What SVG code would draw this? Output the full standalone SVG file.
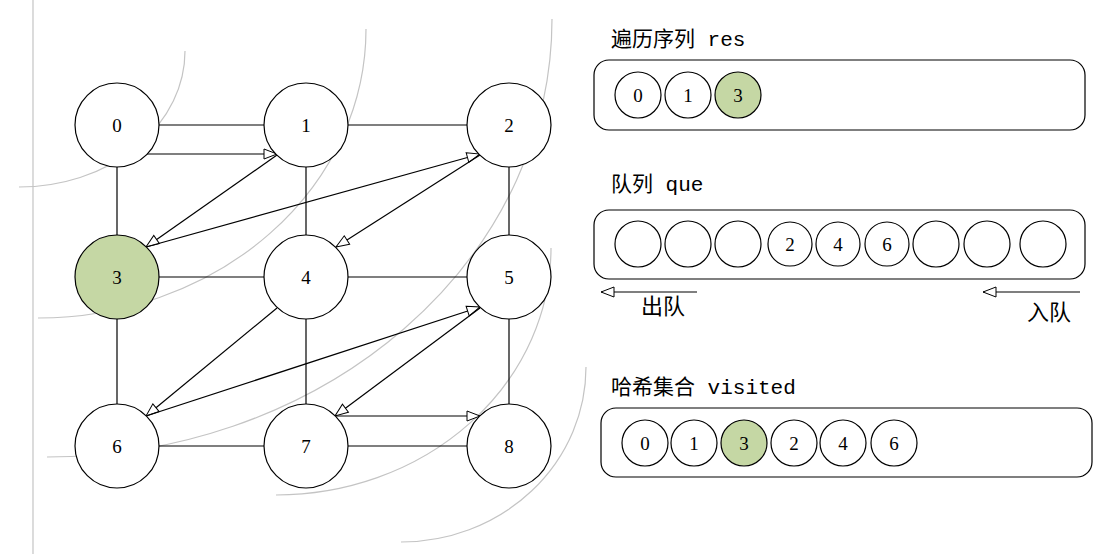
<svg xmlns="http://www.w3.org/2000/svg" width="1114" height="554" viewBox="0 0 1114 554">
<defs>
<marker id="ah" markerUnits="userSpaceOnUse" viewBox="0 0 15 12" refX="14" refY="6" markerWidth="15" markerHeight="12" orient="auto">
<path d="M1,1 L14,6 L1,11 Z" fill="#fff" stroke="#000" stroke-width="1"/>
</marker>
</defs>
<style>
.bg{fill:#fff}
.arc{fill:none;stroke:#c4c4c4;stroke-width:1.2}
.n{fill:#fff;stroke:#000;stroke-width:1.2}
.g{fill:#c5d7a4}
.e{stroke:#000;stroke-width:1.2;fill:none}
.a{stroke:#000;stroke-width:1.2;fill:none;marker-end:url(#ah)}
.lb{font-family:"Liberation Serif","Noto Sans CJK SC",serif;font-size:19px;text-anchor:middle;fill:#000}
.t{font-family:"Liberation Mono","Noto Sans CJK SC",monospace;font-size:21px;fill:#000}
.q{font-family:"Noto Sans CJK SC",sans-serif;font-size:22px;fill:#000}
.p{fill:#fff;stroke:#000;stroke-width:1.2}
</style>
<rect class="bg" width="1114" height="554"/>
<g id="guides">
<line class="arc" x1="33" y1="0" x2="33" y2="554"/>
<path class="arc" d="M185,51 A166,136 0 0 1 19,187"/>
<path class="arc" d="M366,29 A328,289 0 0 1 38,318"/>
<path class="arc" d="M552,19 A505,438 0 0 1 47,457"/>
<path class="arc" d="M551,248 A275,247 0 0 1 276,495"/>
<path class="arc" d="M586,367 A185,175 0 0 1 401,542"/>
</g>
<g id="connectors">
<line class="e" x1="159" y1="125" x2="264" y2="125"/>
<line class="e" x1="348" y1="125" x2="467" y2="125"/>
<line class="e" x1="159" y1="277" x2="264" y2="277"/>
<line class="e" x1="348" y1="277" x2="467" y2="277"/>
<line class="e" x1="159" y1="446" x2="264" y2="446"/>
<line class="e" x1="348" y1="446" x2="467" y2="446"/>
<line class="e" x1="117" y1="167" x2="117" y2="235"/>
<line class="e" x1="306" y1="167" x2="306" y2="235"/>
<line class="e" x1="509" y1="167" x2="509" y2="235"/>
<line class="e" x1="117" y1="319" x2="117" y2="404"/>
<line class="e" x1="306" y1="319" x2="306" y2="404"/>
<line class="e" x1="509" y1="319" x2="509" y2="404"/>
<line class="a" x1="147" y1="154" x2="277" y2="154"/>
<line class="a" x1="277" y1="155" x2="146" y2="247"/>
<line class="a" x1="146" y1="247" x2="480" y2="154"/>
<line class="a" x1="480" y1="155" x2="336" y2="247"/>
<line class="a" x1="277" y1="308" x2="146" y2="416"/>
<line class="a" x1="146" y1="416" x2="480" y2="307"/>
<line class="a" x1="480" y1="308" x2="335" y2="416"/>
<line class="a" x1="336" y1="416" x2="480" y2="416"/>
</g>
<g id="node0"><circle class="n" cx="117" cy="125" r="42"/><text class="lb" x="117" y="132">0</text></g>
<g id="node1"><circle class="n" cx="306" cy="125" r="42"/><text class="lb" x="306" y="132">1</text></g>
<g id="node2"><circle class="n" cx="509" cy="125" r="42"/><text class="lb" x="509" y="132">2</text></g>
<g id="node3"><circle class="n g" cx="117" cy="277" r="42"/><text class="lb" x="117" y="284">3</text></g>
<g id="node4"><circle class="n" cx="306" cy="277" r="42"/><text class="lb" x="306" y="284">4</text></g>
<g id="node5"><circle class="n" cx="509" cy="277" r="42"/><text class="lb" x="509" y="284">5</text></g>
<g id="node6"><circle class="n" cx="117" cy="446" r="42"/><text class="lb" x="117" y="453">6</text></g>
<g id="node7"><circle class="n" cx="306" cy="446" r="42"/><text class="lb" x="306" y="453">7</text></g>
<g id="node8"><circle class="n" cx="509" cy="446" r="42"/><text class="lb" x="509" y="453">8</text></g>
<g id="res">
<text class="t" x="611" y="46">遍历序列 res</text>
<rect class="p" x="594" y="60" width="491" height="70" rx="15"/>
<circle class="n" cx="638" cy="95" r="23"/><text class="lb" x="638" y="102">0</text>
<circle class="n" cx="688" cy="95" r="23"/><text class="lb" x="688" y="102">1</text>
<circle class="n g" cx="738" cy="95" r="23"/><text class="lb" x="738" y="102">3</text>
</g>
<g id="que">
<text class="t" x="611" y="191">队列 que</text>
<rect class="p" x="594" y="210" width="491" height="69" rx="15"/>
<circle class="n" cx="638" cy="244" r="23"/>
<circle class="n" cx="688" cy="244" r="23"/>
<circle class="n" cx="738" cy="244" r="23"/>
<circle class="n" cx="790" cy="244" r="22"/><text class="lb" x="790" y="251">2</text>
<circle class="n" cx="838" cy="244" r="22"/><text class="lb" x="838" y="251">4</text>
<circle class="n" cx="887" cy="244" r="22"/><text class="lb" x="887" y="251">6</text>
<circle class="n" cx="936" cy="244" r="23"/>
<circle class="n" cx="987" cy="244" r="23"/>
<circle class="n" cx="1043" cy="244" r="23"/>
<line class="a" x1="697" y1="292" x2="601" y2="292"/>
<text class="q" x="641" y="314">出队</text>
<line class="a" x1="1080" y1="292" x2="983" y2="292"/>
<text class="q" x="1027" y="320">入队</text>
</g>
<g id="visited">
<text class="t" x="611" y="394">哈希集合 visited</text>
<rect class="p" x="601" y="408" width="491" height="69" rx="15"/>
<circle class="n" cx="645" cy="443" r="23"/><text class="lb" x="645" y="450">0</text>
<circle class="n" cx="694" cy="443" r="23"/><text class="lb" x="694" y="450">1</text>
<circle class="n g" cx="744" cy="443" r="23"/><text class="lb" x="744" y="450">3</text>
<circle class="n" cx="794" cy="443" r="23"/><text class="lb" x="794" y="450">2</text>
<circle class="n" cx="843" cy="443" r="23"/><text class="lb" x="843" y="450">4</text>
<circle class="n" cx="894" cy="443" r="23"/><text class="lb" x="894" y="450">6</text>
</g>
</svg>
